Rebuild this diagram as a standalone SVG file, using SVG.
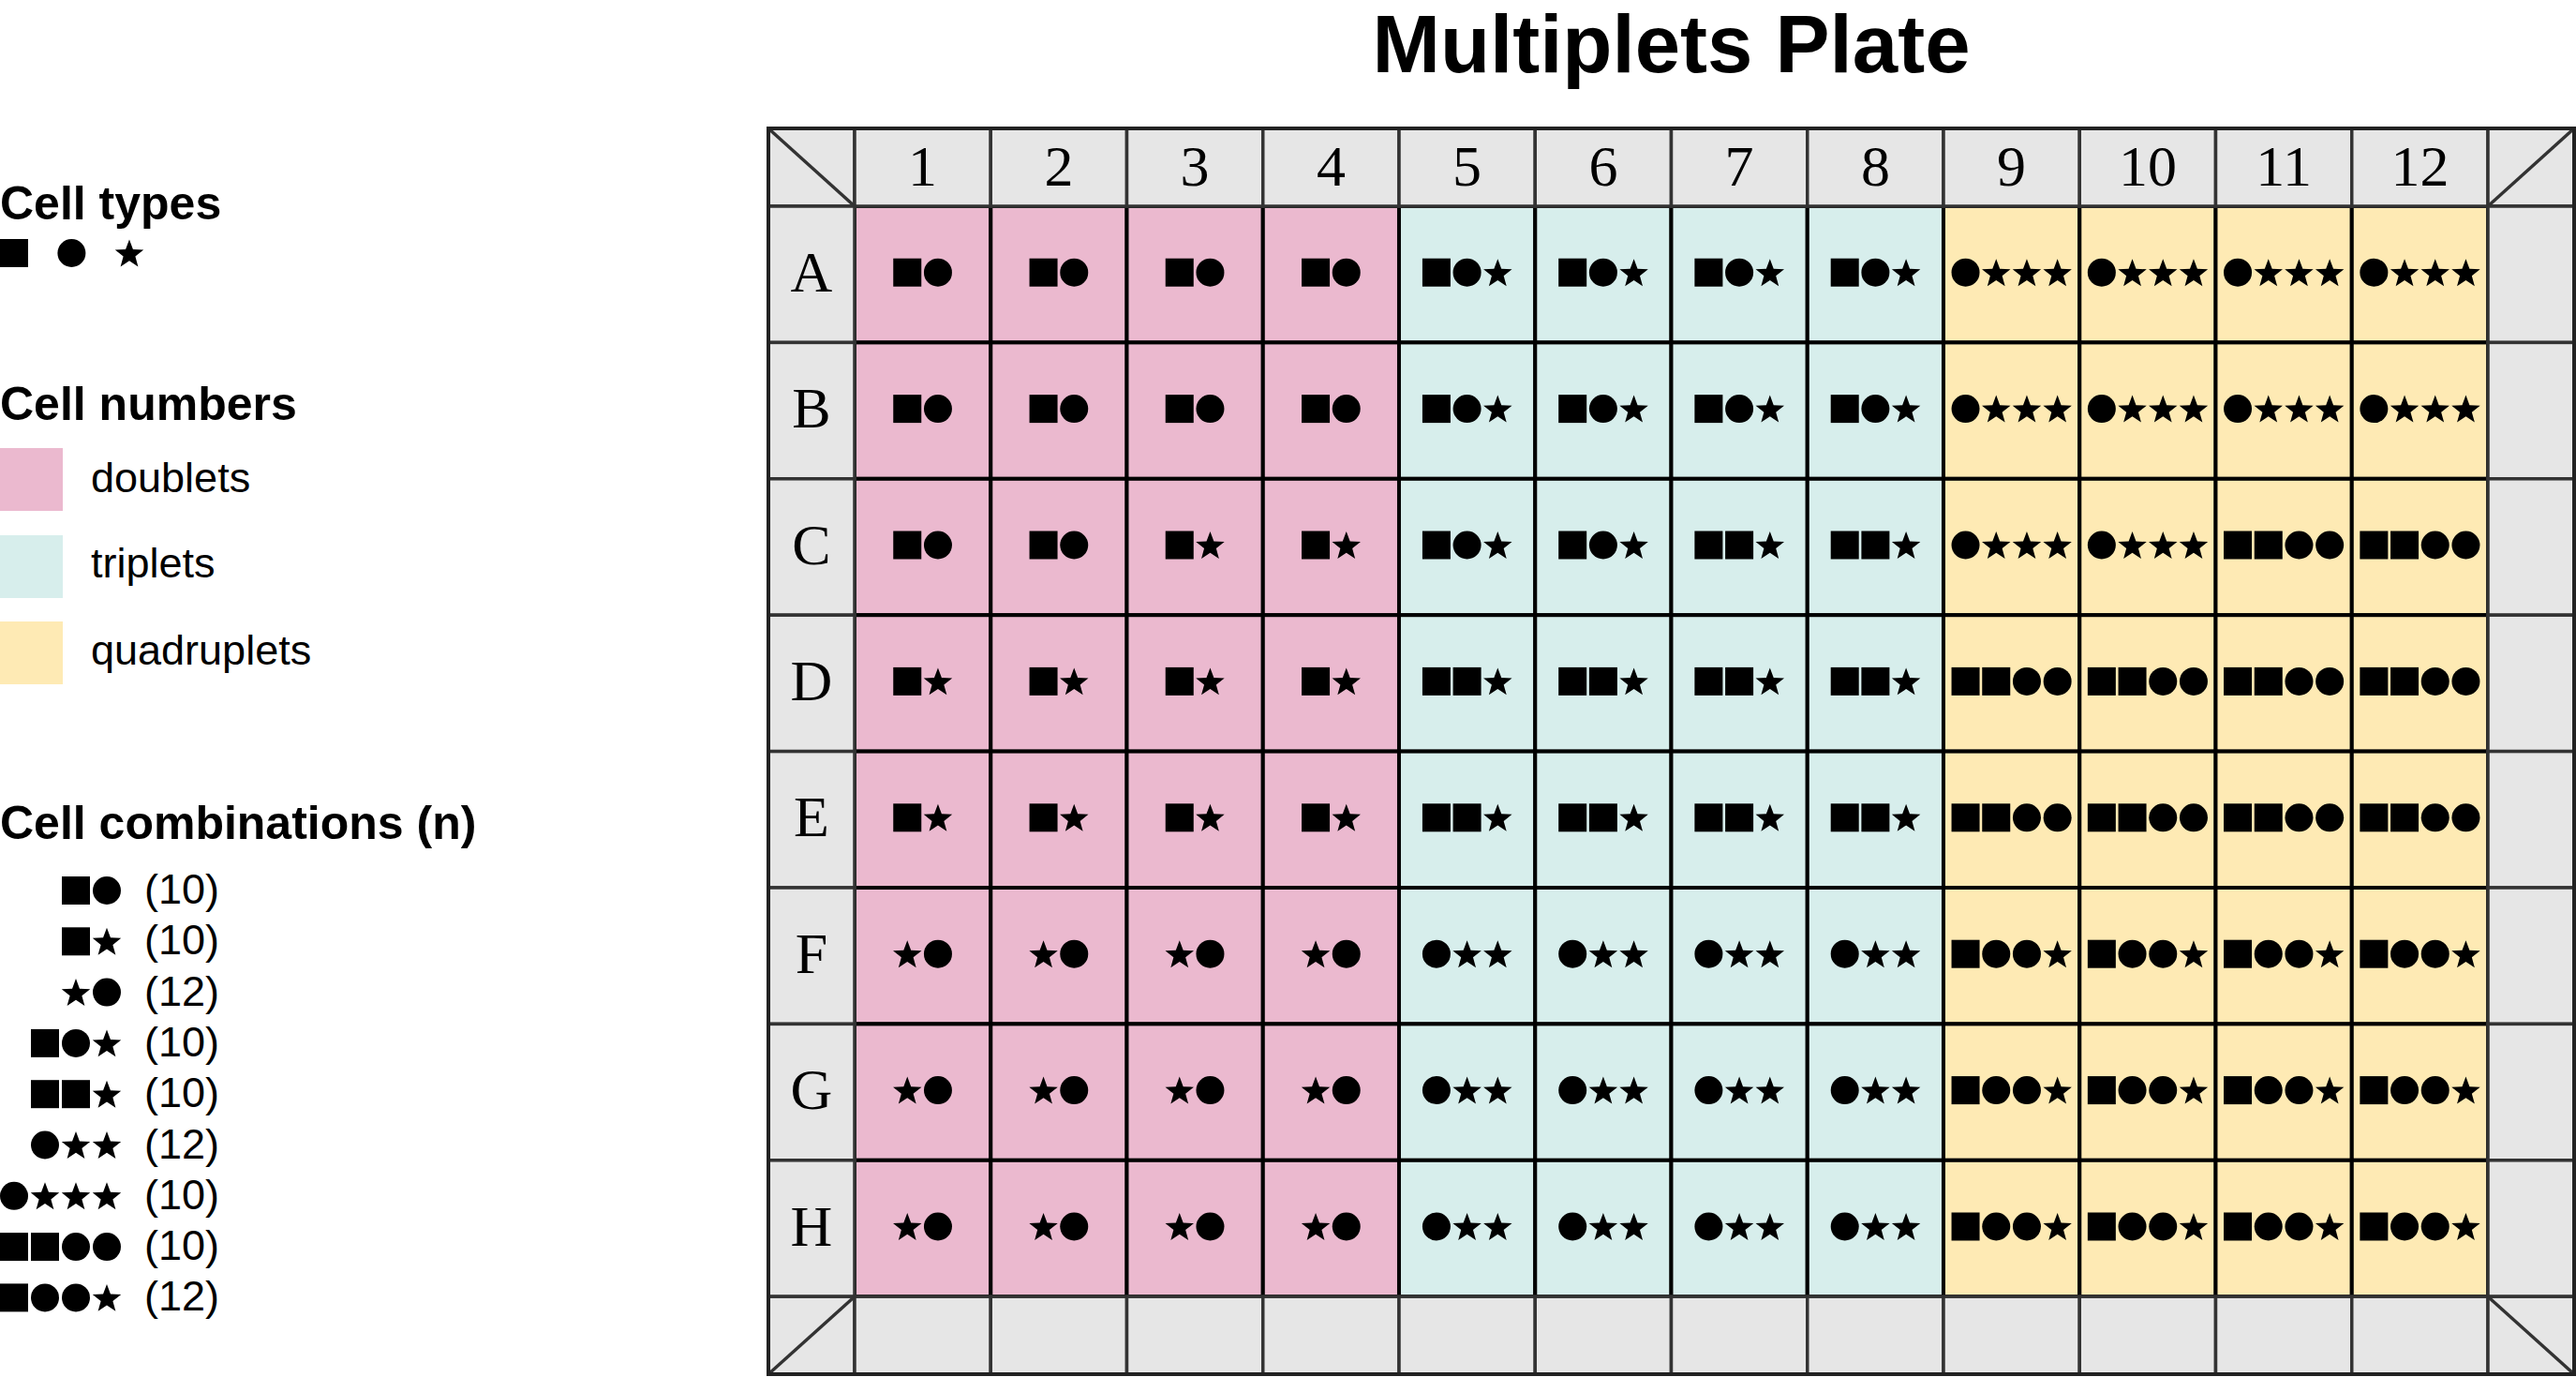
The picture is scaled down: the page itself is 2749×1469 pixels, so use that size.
<svg xmlns="http://www.w3.org/2000/svg" xmlns:xlink="http://www.w3.org/1999/xlink" width="2749" height="1469" viewBox="0 0 2749 1469">
<style>
.t{font-family:"Liberation Sans",Arial,sans-serif;fill:#000}
.h{font-weight:bold;font-size:50px}
.r{font-size:45px}
.ttl{font-family:"Liberation Sans",Arial,sans-serif;font-weight:bold;font-size:87px;text-anchor:middle}
.s{font-family:"Liberation Serif","Times New Roman",serif;font-size:62px;text-anchor:middle;fill:#000}
.m{fill:#e6e6e6;stroke:#333;stroke-width:3.5}
.pk,.tl,.yl{stroke:#000;stroke-width:4}
.pk,.pk0{fill:#ebb9cf}
.tl,.tl0{fill:#d7eeec}
.yl,.yl0{fill:#feeab4}
.dg{stroke:#333;stroke-width:3.5;fill:none}
.ob{fill:none;stroke:#222;stroke-width:4}
</style>
<defs>
<rect id="sq" x="-15" y="-15" width="30" height="30"/>
<circle id="ci" r="15"/>
<polygon id="st" points="0,-14.5 3.95,-3.94 15.22,-3.44 6.39,3.58 9.4,14.44 0,8.22 -9.4,14.44 -6.39,3.58 -15.22,-3.44 -3.95,-3.94"/>
<rect id="wr" x="-72.625" y="-72.7" width="145.25" height="145.4"/>
<g id="c2a" transform="translate(0,-2)"><use href="#sq" x="-16.35"/><use href="#ci" x="16.35"/></g>
<g id="c2b" transform="translate(0,-2)"><use href="#sq" x="-16.35"/><use href="#st" x="16.35"/></g>
<g id="c2c" transform="translate(0,-2)"><use href="#st" x="-16.35"/><use href="#ci" x="16.35"/></g>
<g id="c3a" transform="translate(0,-2)"><use href="#sq" x="-32.7"/><use href="#ci"/><use href="#st" x="32.7"/></g>
<g id="c3b" transform="translate(0,-2)"><use href="#sq" x="-32.7"/><use href="#sq"/><use href="#st" x="32.7"/></g>
<g id="c3c" transform="translate(0,-2)"><use href="#ci" x="-32.7"/><use href="#st"/><use href="#st" x="32.7"/></g>
<g id="c4a" transform="translate(0,-2)"><use href="#ci" x="-49.05"/><use href="#st" x="-16.35"/><use href="#st" x="16.35"/><use href="#st" x="49.05"/></g>
<g id="c4b" transform="translate(0,-2)"><use href="#sq" x="-49.05"/><use href="#sq" x="-16.35"/><use href="#ci" x="16.35"/><use href="#ci" x="49.05"/></g>
<g id="c4c" transform="translate(0,-2)"><use href="#sq" x="-49.05"/><use href="#ci" x="-16.35"/><use href="#ci" x="16.35"/><use href="#st" x="49.05"/></g>
</defs>
<rect width="2749" height="1469" fill="#fff"/>

<text id="title" class="ttl" x="1783.5" y="77">Multiplets Plate</text>

<g id="legend-cell-types">
<text class="t h" x="0" y="234">Cell types</text>
<use href="#sq" x="15" y="270"/>
<use href="#ci" x="76.4" y="270"/>
<use href="#st" x="138" y="270"/>
</g>

<g id="legend-cell-numbers">
<text class="t h" x="0" y="448">Cell numbers</text>
<rect class="pk0" x="0" y="478" width="67" height="67"/>
<text class="t r" x="97" y="525">doublets</text>
<rect class="tl0" x="0" y="571" width="67" height="67"/>
<text class="t r" x="97" y="616">triplets</text>
<rect class="yl0" x="0" y="663" width="67" height="67"/>
<text class="t r" x="97" y="708.5">quadruplets</text>
</g>

<g id="legend-cell-combinations">
<text class="t h" x="0" y="895">Cell combinations (n)</text>
<g transform="translate(0,950)"><use href="#sq" x="81"/><use href="#ci" x="114"/></g>
<text class="t r" x="154" y="964">(10)</text>
<g transform="translate(0,1004.3)"><use href="#sq" x="81"/><use href="#st" x="114"/></g>
<text class="t r" x="154" y="1018.3">(10)</text>
<g transform="translate(0,1058.6)"><use href="#st" x="81"/><use href="#ci" x="114"/></g>
<text class="t r" x="154" y="1072.6">(12)</text>
<g transform="translate(0,1112.9)"><use href="#sq" x="48"/><use href="#ci" x="81"/><use href="#st" x="114"/></g>
<text class="t r" x="154" y="1126.9">(10)</text>
<g transform="translate(0,1167.2)"><use href="#sq" x="48"/><use href="#sq" x="81"/><use href="#st" x="114"/></g>
<text class="t r" x="154" y="1181.2">(10)</text>
<g transform="translate(0,1221.5)"><use href="#ci" x="48"/><use href="#st" x="81"/><use href="#st" x="114"/></g>
<text class="t r" x="154" y="1235.5">(12)</text>
<g transform="translate(0,1275.8)"><use href="#ci" x="15"/><use href="#st" x="48"/><use href="#st" x="81"/><use href="#st" x="114"/></g>
<text class="t r" x="154" y="1289.8">(10)</text>
<g transform="translate(0,1330.1)"><use href="#sq" x="15"/><use href="#sq" x="48"/><use href="#ci" x="81"/><use href="#ci" x="114"/></g>
<text class="t r" x="154" y="1344.1">(10)</text>
<g transform="translate(0,1384.4)"><use href="#sq" x="15"/><use href="#ci" x="48"/><use href="#ci" x="81"/><use href="#st" x="114"/></g>
<text class="t r" x="154" y="1398.4">(12)</text>
</g>

<g id="wells">
<g id="A1" transform="translate(984.6,292.7)"><use href="#wr" class="pk"/><use href="#c2a"/></g>
<g id="A2" transform="translate(1129.9,292.7)"><use href="#wr" class="pk"/><use href="#c2a"/></g>
<g id="A3" transform="translate(1275.1,292.7)"><use href="#wr" class="pk"/><use href="#c2a"/></g>
<g id="A4" transform="translate(1420.4,292.7)"><use href="#wr" class="pk"/><use href="#c2a"/></g>
<g id="A5" transform="translate(1565.6,292.7)"><use href="#wr" class="tl"/><use href="#c3a"/></g>
<g id="A6" transform="translate(1710.9,292.7)"><use href="#wr" class="tl"/><use href="#c3a"/></g>
<g id="A7" transform="translate(1856.1,292.7)"><use href="#wr" class="tl"/><use href="#c3a"/></g>
<g id="A8" transform="translate(2001.4,292.7)"><use href="#wr" class="tl"/><use href="#c3a"/></g>
<g id="A9" transform="translate(2146.6,292.7)"><use href="#wr" class="yl"/><use href="#c4a"/></g>
<g id="A10" transform="translate(2291.9,292.7)"><use href="#wr" class="yl"/><use href="#c4a"/></g>
<g id="A11" transform="translate(2437.1,292.7)"><use href="#wr" class="yl"/><use href="#c4a"/></g>
<g id="A12" transform="translate(2582.4,292.7)"><use href="#wr" class="yl"/><use href="#c4a"/></g>

<g id="B1" transform="translate(984.6,438.1)"><use href="#wr" class="pk"/><use href="#c2a"/></g>
<g id="B2" transform="translate(1129.9,438.1)"><use href="#wr" class="pk"/><use href="#c2a"/></g>
<g id="B3" transform="translate(1275.1,438.1)"><use href="#wr" class="pk"/><use href="#c2a"/></g>
<g id="B4" transform="translate(1420.4,438.1)"><use href="#wr" class="pk"/><use href="#c2a"/></g>
<g id="B5" transform="translate(1565.6,438.1)"><use href="#wr" class="tl"/><use href="#c3a"/></g>
<g id="B6" transform="translate(1710.9,438.1)"><use href="#wr" class="tl"/><use href="#c3a"/></g>
<g id="B7" transform="translate(1856.1,438.1)"><use href="#wr" class="tl"/><use href="#c3a"/></g>
<g id="B8" transform="translate(2001.4,438.1)"><use href="#wr" class="tl"/><use href="#c3a"/></g>
<g id="B9" transform="translate(2146.6,438.1)"><use href="#wr" class="yl"/><use href="#c4a"/></g>
<g id="B10" transform="translate(2291.9,438.1)"><use href="#wr" class="yl"/><use href="#c4a"/></g>
<g id="B11" transform="translate(2437.1,438.1)"><use href="#wr" class="yl"/><use href="#c4a"/></g>
<g id="B12" transform="translate(2582.4,438.1)"><use href="#wr" class="yl"/><use href="#c4a"/></g>

<g id="C1" transform="translate(984.6,583.5)"><use href="#wr" class="pk"/><use href="#c2a"/></g>
<g id="C2" transform="translate(1129.9,583.5)"><use href="#wr" class="pk"/><use href="#c2a"/></g>
<g id="C3" transform="translate(1275.1,583.5)"><use href="#wr" class="pk"/><use href="#c2b"/></g>
<g id="C4" transform="translate(1420.4,583.5)"><use href="#wr" class="pk"/><use href="#c2b"/></g>
<g id="C5" transform="translate(1565.6,583.5)"><use href="#wr" class="tl"/><use href="#c3a"/></g>
<g id="C6" transform="translate(1710.9,583.5)"><use href="#wr" class="tl"/><use href="#c3a"/></g>
<g id="C7" transform="translate(1856.1,583.5)"><use href="#wr" class="tl"/><use href="#c3b"/></g>
<g id="C8" transform="translate(2001.4,583.5)"><use href="#wr" class="tl"/><use href="#c3b"/></g>
<g id="C9" transform="translate(2146.6,583.5)"><use href="#wr" class="yl"/><use href="#c4a"/></g>
<g id="C10" transform="translate(2291.9,583.5)"><use href="#wr" class="yl"/><use href="#c4a"/></g>
<g id="C11" transform="translate(2437.1,583.5)"><use href="#wr" class="yl"/><use href="#c4b"/></g>
<g id="C12" transform="translate(2582.4,583.5)"><use href="#wr" class="yl"/><use href="#c4b"/></g>

<g id="D1" transform="translate(984.6,728.9)"><use href="#wr" class="pk"/><use href="#c2b"/></g>
<g id="D2" transform="translate(1129.9,728.9)"><use href="#wr" class="pk"/><use href="#c2b"/></g>
<g id="D3" transform="translate(1275.1,728.9)"><use href="#wr" class="pk"/><use href="#c2b"/></g>
<g id="D4" transform="translate(1420.4,728.9)"><use href="#wr" class="pk"/><use href="#c2b"/></g>
<g id="D5" transform="translate(1565.6,728.9)"><use href="#wr" class="tl"/><use href="#c3b"/></g>
<g id="D6" transform="translate(1710.9,728.9)"><use href="#wr" class="tl"/><use href="#c3b"/></g>
<g id="D7" transform="translate(1856.1,728.9)"><use href="#wr" class="tl"/><use href="#c3b"/></g>
<g id="D8" transform="translate(2001.4,728.9)"><use href="#wr" class="tl"/><use href="#c3b"/></g>
<g id="D9" transform="translate(2146.6,728.9)"><use href="#wr" class="yl"/><use href="#c4b"/></g>
<g id="D10" transform="translate(2291.9,728.9)"><use href="#wr" class="yl"/><use href="#c4b"/></g>
<g id="D11" transform="translate(2437.1,728.9)"><use href="#wr" class="yl"/><use href="#c4b"/></g>
<g id="D12" transform="translate(2582.4,728.9)"><use href="#wr" class="yl"/><use href="#c4b"/></g>

<g id="E1" transform="translate(984.6,874.3)"><use href="#wr" class="pk"/><use href="#c2b"/></g>
<g id="E2" transform="translate(1129.9,874.3)"><use href="#wr" class="pk"/><use href="#c2b"/></g>
<g id="E3" transform="translate(1275.1,874.3)"><use href="#wr" class="pk"/><use href="#c2b"/></g>
<g id="E4" transform="translate(1420.4,874.3)"><use href="#wr" class="pk"/><use href="#c2b"/></g>
<g id="E5" transform="translate(1565.6,874.3)"><use href="#wr" class="tl"/><use href="#c3b"/></g>
<g id="E6" transform="translate(1710.9,874.3)"><use href="#wr" class="tl"/><use href="#c3b"/></g>
<g id="E7" transform="translate(1856.1,874.3)"><use href="#wr" class="tl"/><use href="#c3b"/></g>
<g id="E8" transform="translate(2001.4,874.3)"><use href="#wr" class="tl"/><use href="#c3b"/></g>
<g id="E9" transform="translate(2146.6,874.3)"><use href="#wr" class="yl"/><use href="#c4b"/></g>
<g id="E10" transform="translate(2291.9,874.3)"><use href="#wr" class="yl"/><use href="#c4b"/></g>
<g id="E11" transform="translate(2437.1,874.3)"><use href="#wr" class="yl"/><use href="#c4b"/></g>
<g id="E12" transform="translate(2582.4,874.3)"><use href="#wr" class="yl"/><use href="#c4b"/></g>

<g id="F1" transform="translate(984.6,1019.7)"><use href="#wr" class="pk"/><use href="#c2c"/></g>
<g id="F2" transform="translate(1129.9,1019.7)"><use href="#wr" class="pk"/><use href="#c2c"/></g>
<g id="F3" transform="translate(1275.1,1019.7)"><use href="#wr" class="pk"/><use href="#c2c"/></g>
<g id="F4" transform="translate(1420.4,1019.7)"><use href="#wr" class="pk"/><use href="#c2c"/></g>
<g id="F5" transform="translate(1565.6,1019.7)"><use href="#wr" class="tl"/><use href="#c3c"/></g>
<g id="F6" transform="translate(1710.9,1019.7)"><use href="#wr" class="tl"/><use href="#c3c"/></g>
<g id="F7" transform="translate(1856.1,1019.7)"><use href="#wr" class="tl"/><use href="#c3c"/></g>
<g id="F8" transform="translate(2001.4,1019.7)"><use href="#wr" class="tl"/><use href="#c3c"/></g>
<g id="F9" transform="translate(2146.6,1019.7)"><use href="#wr" class="yl"/><use href="#c4c"/></g>
<g id="F10" transform="translate(2291.9,1019.7)"><use href="#wr" class="yl"/><use href="#c4c"/></g>
<g id="F11" transform="translate(2437.1,1019.7)"><use href="#wr" class="yl"/><use href="#c4c"/></g>
<g id="F12" transform="translate(2582.4,1019.7)"><use href="#wr" class="yl"/><use href="#c4c"/></g>

<g id="G1" transform="translate(984.6,1165.1)"><use href="#wr" class="pk"/><use href="#c2c"/></g>
<g id="G2" transform="translate(1129.9,1165.1)"><use href="#wr" class="pk"/><use href="#c2c"/></g>
<g id="G3" transform="translate(1275.1,1165.1)"><use href="#wr" class="pk"/><use href="#c2c"/></g>
<g id="G4" transform="translate(1420.4,1165.1)"><use href="#wr" class="pk"/><use href="#c2c"/></g>
<g id="G5" transform="translate(1565.6,1165.1)"><use href="#wr" class="tl"/><use href="#c3c"/></g>
<g id="G6" transform="translate(1710.9,1165.1)"><use href="#wr" class="tl"/><use href="#c3c"/></g>
<g id="G7" transform="translate(1856.1,1165.1)"><use href="#wr" class="tl"/><use href="#c3c"/></g>
<g id="G8" transform="translate(2001.4,1165.1)"><use href="#wr" class="tl"/><use href="#c3c"/></g>
<g id="G9" transform="translate(2146.6,1165.1)"><use href="#wr" class="yl"/><use href="#c4c"/></g>
<g id="G10" transform="translate(2291.9,1165.1)"><use href="#wr" class="yl"/><use href="#c4c"/></g>
<g id="G11" transform="translate(2437.1,1165.1)"><use href="#wr" class="yl"/><use href="#c4c"/></g>
<g id="G12" transform="translate(2582.4,1165.1)"><use href="#wr" class="yl"/><use href="#c4c"/></g>

<g id="H1" transform="translate(984.6,1310.5)"><use href="#wr" class="pk"/><use href="#c2c"/></g>
<g id="H2" transform="translate(1129.9,1310.5)"><use href="#wr" class="pk"/><use href="#c2c"/></g>
<g id="H3" transform="translate(1275.1,1310.5)"><use href="#wr" class="pk"/><use href="#c2c"/></g>
<g id="H4" transform="translate(1420.4,1310.5)"><use href="#wr" class="pk"/><use href="#c2c"/></g>
<g id="H5" transform="translate(1565.6,1310.5)"><use href="#wr" class="tl"/><use href="#c3c"/></g>
<g id="H6" transform="translate(1710.9,1310.5)"><use href="#wr" class="tl"/><use href="#c3c"/></g>
<g id="H7" transform="translate(1856.1,1310.5)"><use href="#wr" class="tl"/><use href="#c3c"/></g>
<g id="H8" transform="translate(2001.4,1310.5)"><use href="#wr" class="tl"/><use href="#c3c"/></g>
<g id="H9" transform="translate(2146.6,1310.5)"><use href="#wr" class="yl"/><use href="#c4c"/></g>
<g id="H10" transform="translate(2291.9,1310.5)"><use href="#wr" class="yl"/><use href="#c4c"/></g>
<g id="H11" transform="translate(2437.1,1310.5)"><use href="#wr" class="yl"/><use href="#c4c"/></g>
<g id="H12" transform="translate(2582.4,1310.5)"><use href="#wr" class="yl"/><use href="#c4c"/></g>
</g>

<g id="plate-frame">
<g id="header-top">
<rect class="m" x="820" y="137" width="92" height="83"/>
<line class="dg" x1="820" y1="137" x2="912" y2="220"/>
<rect class="m" x="912" y="137" width="145.25" height="83"/>
<rect class="m" x="1057.25" y="137" width="145.25" height="83"/>
<rect class="m" x="1202.5" y="137" width="145.25" height="83"/>
<rect class="m" x="1347.75" y="137" width="145.25" height="83"/>
<rect class="m" x="1493" y="137" width="145.25" height="83"/>
<rect class="m" x="1638.25" y="137" width="145.25" height="83"/>
<rect class="m" x="1783.5" y="137" width="145.25" height="83"/>
<rect class="m" x="1928.75" y="137" width="145.25" height="83"/>
<rect class="m" x="2074" y="137" width="145.25" height="83"/>
<rect class="m" x="2219.25" y="137" width="145.25" height="83"/>
<rect class="m" x="2364.5" y="137" width="145.25" height="83"/>
<rect class="m" x="2509.75" y="137" width="145.25" height="83"/>
<rect class="m" x="2655" y="137" width="92" height="83"/>
<line class="dg" x1="2655" y1="220" x2="2747" y2="137"/>
<text class="s" x="984.6" y="198">1</text>
<text class="s" x="1129.9" y="198">2</text>
<text class="s" x="1275.1" y="198">3</text>
<text class="s" x="1420.4" y="198">4</text>
<text class="s" x="1565.6" y="198">5</text>
<text class="s" x="1710.9" y="198">6</text>
<text class="s" x="1856.1" y="198">7</text>
<text class="s" x="2001.4" y="198">8</text>
<text class="s" x="2146.6" y="198">9</text>
<text class="s" x="2291.9" y="198">10</text>
<text class="s" x="2437.1" y="198">11</text>
<text class="s" x="2582.4" y="198">12</text>
</g>
<g id="header-left">
<rect class="m" x="820" y="220" width="92" height="145.4"/>
<rect class="m" x="820" y="365.4" width="92" height="145.4"/>
<rect class="m" x="820" y="510.8" width="92" height="145.4"/>
<rect class="m" x="820" y="656.2" width="92" height="145.4"/>
<rect class="m" x="820" y="801.6" width="92" height="145.4"/>
<rect class="m" x="820" y="947" width="92" height="145.4"/>
<rect class="m" x="820" y="1092.4" width="92" height="145.4"/>
<rect class="m" x="820" y="1237.8" width="92" height="145.4"/>
<text class="s" x="866" y="310.7">A</text>
<text class="s" x="866" y="456.1">B</text>
<text class="s" x="866" y="601.5">C</text>
<text class="s" x="866" y="746.9">D</text>
<text class="s" x="866" y="892.3">E</text>
<text class="s" x="866" y="1037.7">F</text>
<text class="s" x="866" y="1183.1">G</text>
<text class="s" x="866" y="1328.5">H</text>
</g>
<g id="margin-right">
<rect class="m" x="2655" y="220" width="92" height="145.4"/>
<rect class="m" x="2655" y="365.4" width="92" height="145.4"/>
<rect class="m" x="2655" y="510.8" width="92" height="145.4"/>
<rect class="m" x="2655" y="656.2" width="92" height="145.4"/>
<rect class="m" x="2655" y="801.6" width="92" height="145.4"/>
<rect class="m" x="2655" y="947" width="92" height="145.4"/>
<rect class="m" x="2655" y="1092.4" width="92" height="145.4"/>
<rect class="m" x="2655" y="1237.8" width="92" height="145.4"/>
</g>
<g id="margin-bottom">
<rect class="m" x="820" y="1383.2" width="92" height="82.8"/>
<line class="dg" x1="912" y1="1383.2" x2="820" y2="1466"/>
<rect class="m" x="912" y="1383.2" width="145.25" height="82.8"/>
<rect class="m" x="1057.25" y="1383.2" width="145.25" height="82.8"/>
<rect class="m" x="1202.5" y="1383.2" width="145.25" height="82.8"/>
<rect class="m" x="1347.75" y="1383.2" width="145.25" height="82.8"/>
<rect class="m" x="1493" y="1383.2" width="145.25" height="82.8"/>
<rect class="m" x="1638.25" y="1383.2" width="145.25" height="82.8"/>
<rect class="m" x="1783.5" y="1383.2" width="145.25" height="82.8"/>
<rect class="m" x="1928.75" y="1383.2" width="145.25" height="82.8"/>
<rect class="m" x="2074" y="1383.2" width="145.25" height="82.8"/>
<rect class="m" x="2219.25" y="1383.2" width="145.25" height="82.8"/>
<rect class="m" x="2364.5" y="1383.2" width="145.25" height="82.8"/>
<rect class="m" x="2509.75" y="1383.2" width="145.25" height="82.8"/>
<rect class="m" x="2655" y="1383.2" width="92" height="82.8"/>
<line class="dg" x1="2655" y1="1383.2" x2="2747" y2="1466"/>
</g>
<rect class="ob" x="820" y="137" width="1927" height="1329"/>
</g>
</svg>
